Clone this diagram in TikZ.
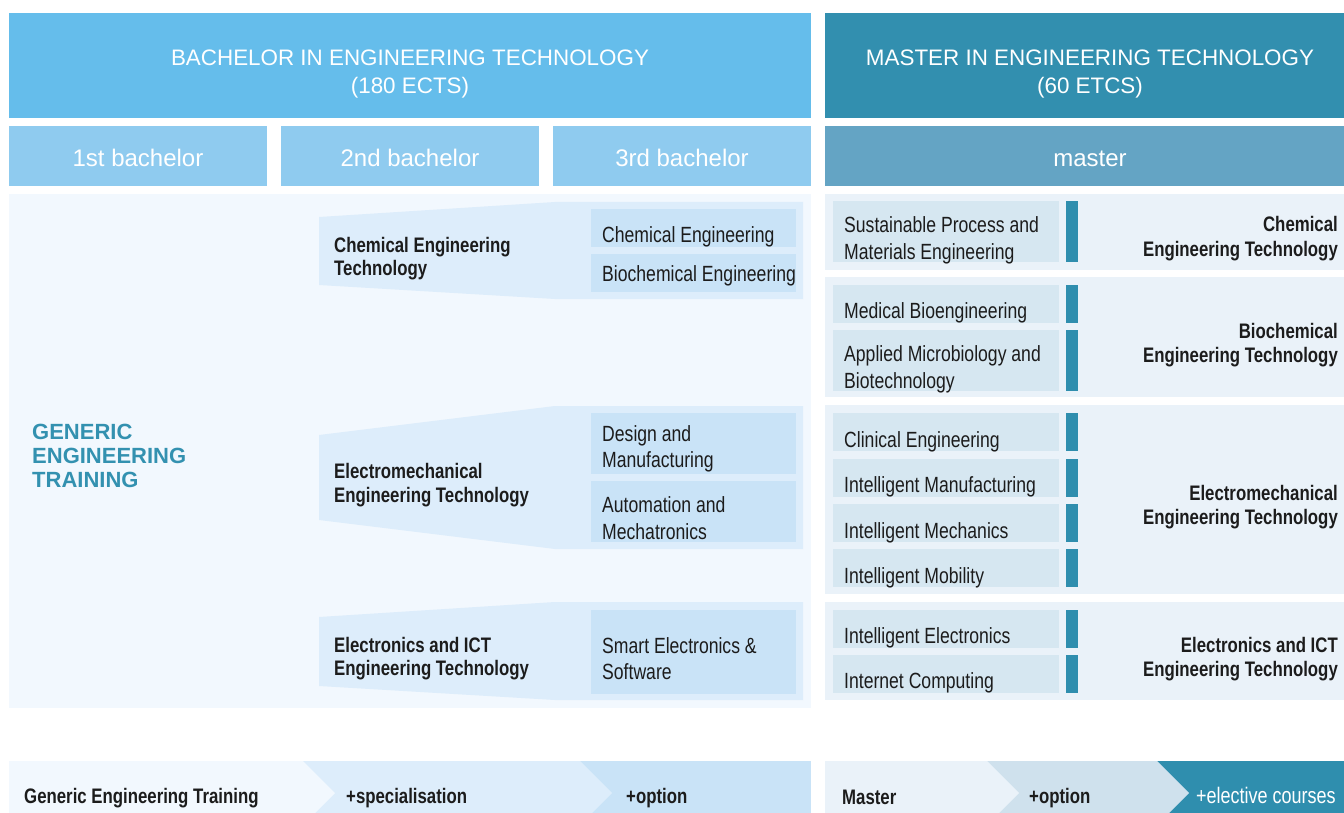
\documentclass[tikz,border=0pt]{standalone}
\usepackage{fontspec}
\setmainfont{Liberation Sans}
\newfontfamily\condf[FakeStretch=0.8]{Liberation Sans}
\definecolor{hdB}{HTML}{65BDEB}
\definecolor{hdM}{HTML}{328FAF}
\definecolor{subB}{HTML}{8FCBEF}
\definecolor{subM}{HTML}{64A4C4}
\definecolor{bodyB}{HTML}{F2F8FE}
\definecolor{funnelB}{HTML}{DDEDFB}
\definecolor{innerB}{HTML}{C9E3F7}
\definecolor{bodyM}{HTML}{EAF2F9}
\definecolor{innerM}{HTML}{D6E7F1}
\definecolor{barM}{HTML}{2F8EAE}
\definecolor{optM}{HTML}{CFE1ED}
\definecolor{txt}{HTML}{1C1C1C}
\definecolor{gentxt}{HTML}{3391B0}
\tikzset{
  hdr/.style={font={\fontsize{22.4}{28}\selectfont}, text=white, inner sep=0pt, anchor=base},
  sub/.style={font={\fontsize{24}{28}\selectfont}, text=white, inner sep=0pt, anchor=base},
  reg/.style={font={\condf\fontsize{22}{26}\selectfont}, text=txt, inner sep=0pt, anchor=base west},
  bld/.style={font={\condf\bfseries\fontsize{21}{24}\selectfont}, text=txt, inner sep=0pt, anchor=base west},
  bldr/.style={bld, anchor=base east},
  gen/.style={font={\bfseries\fontsize{22}{24}\selectfont}, text=gentxt, inner sep=0pt, anchor=base west},
  wreg/.style={reg, text=white}
}
\begin{document}
\begin{tikzpicture}[x=1pt,y=-1pt]
\useasboundingbox (0,0) rectangle (1344,813);
\fill[white] (0,0) rectangle (1344,813);
% ---------- headers
\fill[hdB] (9,13) rectangle (811,118);
\fill[hdM] (825,13) rectangle (1344,118);
\fill[subB] (9,126) rectangle (267,186);
\fill[subB] (281,126) rectangle (539,186);
\fill[subB] (553,126) rectangle (811,186);
\fill[subM] (825,126) rectangle (1344,186);
\node[hdr] (hb1) at (410,66) {BACHELOR IN ENGINEERING TECHNOLOGY};
\node[hdr] (hb2) at (410,94) {(180 ECTS)};
\node[hdr] (hm1) at (1090,66) {MASTER IN ENGINEERING TECHNOLOGY};
\node[hdr] (hm2) at (1090,94) {(60 ETCS)};
\node[sub] (s1) at (138,167) {1st bachelor};
\node[sub] (s2) at (410,167) {2nd bachelor};
\node[sub] (s3) at (682,167) {3rd bachelor};
\node[sub] (s4) at (1090,167) {master};
% ---------- bachelor body
\fill[bodyB] (9,194) rectangle (811,708);
\node[gen] (g1) at (32,439) {GENERIC};
\node[gen] (g2) at (32,463) {ENGINEERING};
\node[gen] (g3) at (32,487) {TRAINING};
% funnels
\fill[funnelB] (319,217) -- (555,202) -- (803,202) -- (803,299) -- (555,299) -- (319,285) -- cycle;
\fill[funnelB] (319,435) -- (555,406) -- (803,406) -- (803,549) -- (555,549) -- (319,520) -- cycle;
\fill[funnelB] (319,617) -- (555,602) -- (803,602) -- (803,700) -- (555,700) -- (319,686) -- cycle;
\fill[innerB] (591,209) rectangle (796,247);
\fill[innerB] (591,254) rectangle (796,292);
\fill[innerB] (591,413) rectangle (796,474);
\fill[innerB] (591,481) rectangle (796,542);
\fill[innerB] (591,610) rectangle (796,694);
\node[bld] (c1) at (334,252) {Chemical Engineering};
\node[bld] (c2) at (334,275) {Technology};
\node[bld] (e1) at (334,478) {Electromechanical};
\node[bld] (e2) at (334,502) {Engineering Technology};
\node[bld] (i1) at (334,652) {Electronics and ICT};
\node[bld] (i2) at (334,675) {Engineering Technology};
\node[reg] (o1) at (602,243) {Chemical Engineering};
\node[reg] (o2) at (602,281) {Biochemical Engineering};
\node[reg] (o3) at (602,441) {Design and};
\node[reg] (o3b) at (602,467) {Manufacturing};
\node[reg] (o4) at (602,512) {Automation and};
\node[reg] (o4b) at (602,539) {Mechatronics};
\node[reg] (o5) at (602,653) {Smart Electronics \&};
\node[reg] (o5b) at (602,679) {Software};
% ---------- master body
\fill[bodyM] (825,194) rectangle (1344,270);
\fill[bodyM] (825,277) rectangle (1344,397);
\fill[bodyM] (825,405) rectangle (1344,594);
\fill[bodyM] (825,602) rectangle (1344,700);
\foreach \ya/\yb in {201/262, 285/323, 330/391, 413/451, 459/497, 504/542, 549/587, 610/648, 655/693}{
  \fill[innerM] (833,\ya) rectangle (1059,\yb);
  \fill[barM] (1066,\ya) rectangle (1078,\yb);
}
\node[reg] (m1) at (844,233) {Sustainable Process and};
\node[reg] (m1b) at (844,259) {Materials Engineering};
\node[reg] (m2) at (844,318) {Medical Bioengineering};
\node[reg] (m3) at (844,361) {Applied Microbiology and};
\node[reg] (m3b) at (844,388) {Biotechnology};
\node[reg] (m4) at (844,447) {Clinical Engineering};
\node[reg] (m5) at (844,492) {Intelligent Manufacturing};
\node[reg] (m6) at (844,538) {Intelligent Mechanics};
\node[reg] (m7) at (844,583) {Intelligent Mobility};
\node[reg] (m8) at (844,643) {Intelligent Electronics};
\node[reg] (m9) at (844,688) {Internet Computing};
\node[bldr] (r1) at (1338,232) {Chemical};
\node[bldr] (r1b) at (1338,256) {Engineering Technology};
\node[bldr] (r2) at (1338,338) {Biochemical};
\node[bldr] (r2b) at (1338,362) {Engineering Technology};
\node[bldr] (r3) at (1338,500) {Electromechanical};
\node[bldr] (r3b) at (1338,524) {Engineering Technology};
\node[bldr] (r4) at (1338,652) {Electronics and ICT};
\node[bldr] (r4b) at (1338,676) {Engineering Technology};
% ---------- bottom strip
\fill[innerB] (9,761) rectangle (811,813);
\fill[funnelB] (9,761) -- (580,761) -- (612,793) -- (592,813) -- (9,813) -- cycle;
\fill[bodyB] (9,761) -- (303,761) -- (335,793) -- (315,813) -- (9,813) -- cycle;
\fill[barM] (825,761) rectangle (1344,813);
\fill[optM] (825,761) -- (1157,761) -- (1189,793) -- (1169,813) -- (825,813) -- cycle;
\fill[bodyM] (825,761) -- (987,761) -- (1019,793) -- (999,813) -- (825,813) -- cycle;
\node[bld] (b1) at (24,803) {Generic Engineering Training};
\node[bld] (b2) at (346,803) {+specialisation};
\node[bld] (b3) at (626,803) {+option};
\node[bld] (b4) at (842,804) {Master};
\node[bld] (b5) at (1029,803) {+option};
\node[wreg, font={\condf\fontsize{22.5}{26}\selectfont}] (b6) at (1196,803) {+elective courses};
\end{tikzpicture}
\end{document}
